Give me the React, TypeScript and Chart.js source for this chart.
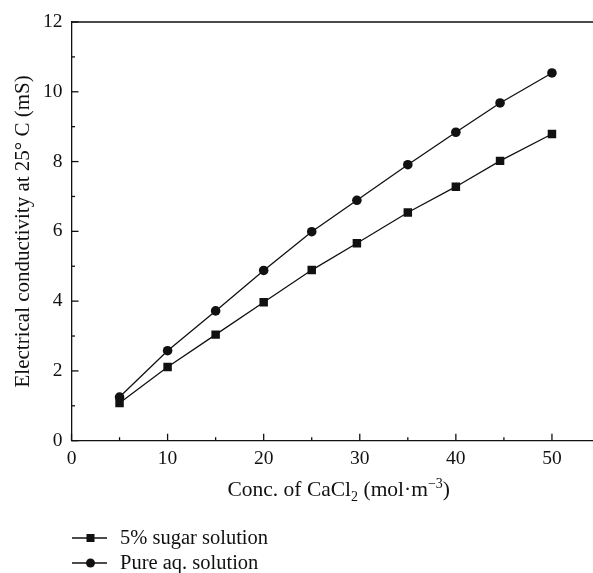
import React, { useEffect, useRef } from "react";
import { Chart, registerables } from "chart.js";

Chart.register(...registerables);

const concentrations = [5, 10, 15, 20, 25, 29.7, 35, 40, 44.6, 50];
const sugarSolution = [1.08, 2.11, 3.04, 3.97, 4.89, 5.66, 6.54, 7.28, 8.02, 8.79];
const pureSolution = [1.25, 2.58, 3.72, 4.88, 5.99, 6.89, 7.91, 8.84, 9.68, 10.54];
const seriesNames = ["5% sugar solution", "Pure aq. solution"];
const yTitle = "Electrical conductivity at 25\u00B0 C (mS)";

const FONT = "'Liberation Serif', 'Times New Roman', serif";
const INK = "#111";

// Inward major/minor ticks, the frame, the x title with sub/superscripts, and the legend.
const decorations = {
  id: "decorations",
  afterDraw(chart: any) {
    const { ctx, chartArea: a, scales } = chart;
    const x = scales.x;
    const y = scales.y;
    ctx.save();
    ctx.strokeStyle = INK;
    ctx.lineWidth = 1.3;
    // frame: top and right edges
    ctx.beginPath();
    ctx.moveTo(a.left, a.top);
    ctx.lineTo(a.right, a.top);
    ctx.lineTo(a.right, a.bottom);
    ctx.stroke();
    // x ticks
    for (let v = 0; v <= 55; v += 5) {
      const px = x.getPixelForValue(v);
      const len = v % 10 === 0 ? 7 : 3.5;
      ctx.beginPath();
      ctx.moveTo(px, a.bottom);
      ctx.lineTo(px, a.bottom - len);
      ctx.stroke();
    }
    // y ticks
    for (let v = 0; v <= 12; v += 1) {
      const py = y.getPixelForValue(v);
      const len = v % 2 === 0 ? 7 : 3.5;
      ctx.beginPath();
      ctx.moveTo(a.left, py);
      ctx.lineTo(a.left + len, py);
      ctx.stroke();
    }

    // x axis title
    ctx.fillStyle = INK;
    ctx.textBaseline = "alphabetic";
    const main = "21.5px " + FONT;
    const small = "14px " + FONT;
    const parts: [string, string, number][] = [
      ["Conc. of CaCl", main, 0],
      ["2", small, 5],
      [" (mol\u00B7m", main, 0],
      ["\u22123", small, -8],
      [")", main, 0],
    ];
    let total = 0;
    for (const [t, f] of parts) {
      ctx.font = f;
      total += ctx.measureText(t).width;
    }
    let cx = (a.left + a.right) / 2 + 3 - total / 2;
    const base = 496;
    for (const [t, f, dy] of parts) {
      ctx.font = f;
      ctx.fillText(t, cx, base + dy);
      cx += ctx.measureText(t).width;
    }

    // legend
    const datasets = chart.data.datasets;
    ctx.font = "20.5px " + FONT;
    ctx.textBaseline = "middle";
    datasets.forEach((ds: any, i: number) => {
      const ly = 538 + i * 25;
      ctx.strokeStyle = INK;
      ctx.lineWidth = 1.3;
      ctx.beginPath();
      ctx.moveTo(72, ly);
      ctx.lineTo(107, ly);
      ctx.stroke();
      ctx.fillStyle = INK;
      if (ds.pointStyle === "rect") {
        ctx.fillRect(90.5 - 4, ly - 4, 8, 8);
      } else {
        ctx.beginPath();
        ctx.arc(90.5, ly, 4.5, 0, Math.PI * 2);
        ctx.fill();
      }
      ctx.fillText(ds.label, 120, ly + 1);
    });
    ctx.restore();
  },
};

export default function App() {
  const ref = useRef<HTMLCanvasElement>(null);

  useEffect(() => {
    if (!ref.current) return;
    const mk = (label: string, data: number[], style: string, r: number) => ({
      label,
      data: concentrations.map((c, i) => ({ x: c, y: data[i] })),
      borderColor: INK,
      backgroundColor: INK,
      borderWidth: 1.3,
      pointStyle: style,
      pointRadius: r,
      pointHoverRadius: r,
      pointBackgroundColor: INK,
      pointBorderColor: INK,
      pointBorderWidth: 0,
      tension: 0,
    });
    const chart = new Chart(ref.current, {
      type: "line",
      data: {
        datasets: [
          mk(seriesNames[0], sugarSolution, "rect", 6),
          mk(seriesNames[1], pureSolution, "circle", 4.8),
        ],
      },
      options: {
        responsive: false,
        animation: false,
        layout: { padding: { left: 0, right: 5, top: 22, bottom: 0 } },
        plugins: { legend: { display: false }, tooltip: { enabled: false } },
        scales: {
          x: {
            type: "linear",
            min: 0,
            max: 55,
            afterFit: (s: any) => {
              s.height = 132.3;
              s.paddingLeft = 0;
              s.paddingRight = 0;
            },
            border: { display: true, color: INK, width: 1.3 },
            grid: { display: true, drawOnChartArea: false, drawTicks: false },
            ticks: {
              stepSize: 10,
              padding: 6,
              color: INK,
              font: { family: FONT, size: 19.5 },
              callback: (v: any) => (v % 10 === 0 ? String(v) : ""),
            },
          },
          y: {
            min: 0,
            max: 12,
            afterFit: (s: any) => {
              s.width = 71.5;
              s.paddingTop = 0;
              s.paddingBottom = 0;
            },
            border: { display: true, color: INK, width: 1.3 },
            grid: { display: true, drawOnChartArea: false, drawTicks: false },
            ticks: {
              stepSize: 2,
              padding: 9,
              color: INK,
              font: { family: FONT, size: 19.5 },
            },
            title: {
              display: true,
              text: yTitle,
              color: INK,
              font: { family: FONT, size: 21 },
              padding: { top: 11, bottom: 0 },
            },
          },
        },
      },
      plugins: [decorations],
    });
    return () => chart.destroy();
  }, []);

  return (
    <div
      style={{
        position: "fixed",
        left: 0,
        top: 0,
        width: 593,
        height: 573,
        overflow: "hidden",
        background: "#fff",
      }}
    >
      <canvas ref={ref} width={606} height={573} style={{ display: "block" }} />
    </div>
  );
}
